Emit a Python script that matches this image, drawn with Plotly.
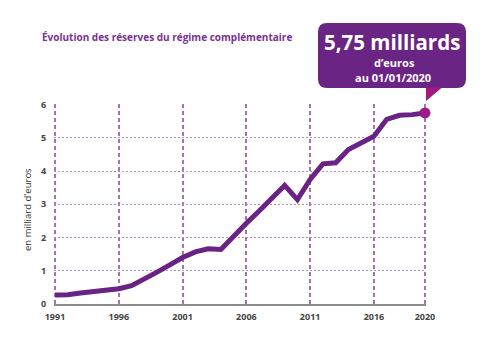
import plotly.graph_objects as go

years = list(range(1991, 2021))
reserves = [0.27, 0.28, 0.33, 0.38, 0.42, 0.46, 0.55, 0.74, 0.96, 1.18,
            1.40, 1.57, 1.66, 1.64, 2.05, 2.43, 2.80, 3.18, 3.57, 3.14,
            3.75, 4.22, 4.25, 4.65, 4.86, 5.05, 5.56, 5.68, 5.70, 5.75]
x_ticks = [1991, 1996, 2001, 2006, 2011, 2016, 2020]
y_ticks = [0, 1, 2, 3, 4, 5, 6]
title = "Évolution des réserves du régime complémentaire"
y_title = "en milliard d'euros"
callout_big = "5,75 milliards"
callout_small = ["d\u2019euros", "au 01/01/2020"]

W, H = 500, 344
L, R, T, B = 54, 74, 104, 40
PW, PH = W - L - R, H - T - B

def px(x):
    return (x - L) / PW

def py(y):
    return (H - B - y) / PH

fig = go.Figure()
fig.add_trace(go.Scatter(x=years, y=reserves, mode="lines",
                         line=dict(color="#6a2385", width=5),
                         cliponaxis=False, hoverinfo="skip"))
fig.add_trace(go.Scatter(x=[years[-1]], y=[reserves[-1]], mode="markers",
                         marker=dict(color="#9e1a86", size=11),
                         cliponaxis=False, hoverinfo="skip"))

# callout box (rounded rect) in paper coords
x0, x1, y0, y1 = px(318), px(466), py(88), py(23)
rx, ry = 9 / PW, 9 / PH
path = (f"M {x0+rx},{y1} L {x1-rx},{y1} Q {x1},{y1} {x1},{y1-ry} "
        f"L {x1},{y0+ry} Q {x1},{y0} {x1-rx},{y0} L {x0+rx},{y0} "
        f"Q {x0},{y0} {x0},{y0+ry} L {x0},{y1-ry} Q {x0},{y1} {x0+rx},{y1} Z")
fig.add_shape(type="path", path=path, xref="paper", yref="paper",
              fillcolor="#6a2483", line=dict(width=0), layer="below")
tail = f"M {px(426)},{py(87.5)} L {px(442)},{py(87.5)} L {px(426)},{py(101)} Z"
fig.add_shape(type="path", path=tail, xref="paper", yref="paper",
              fillcolor="#a3177f", line=dict(width=0), layer="below")

def note(x, y, text, size, color, xanchor="center", angle=0, bold=True):
    fig.add_annotation(x=px(x), y=py(y), xref="paper", yref="paper",
                       xanchor=xanchor, yanchor="middle", textangle=angle,
                       text=f"<b>{text}</b>" if bold else text,
                       showarrow=False, borderpad=0,
                       font=dict(family="Open Sans", size=size, color=color))

note(392, 41.5, callout_big, 20.5, "white")
note(394, 62.5, callout_small[0], 11, "white")
note(393, 77, callout_small[1], 11, "white")
note(41, 37, title, 10, "#7a3391", xanchor="left")
note(27, 209, y_title, 9.5, "#333", angle=-90, bold=False)

fig.update_layout(
    width=W, height=H, margin=dict(l=L, r=R, t=T, b=B),
    paper_bgcolor="white", plot_bgcolor="white", showlegend=False,
    xaxis=dict(range=[1990.92, 2020.08], tickvals=x_ticks,
               ticktext=[str(v) for v in x_ticks],
               showgrid=True, gridcolor="#a373b8", gridwidth=1.5,
               griddash="4px,3px", zeroline=False,
               showline=True, linecolor="#8a8a8a", linewidth=1.5,
               ticks="outside", ticklen=3, tickcolor="rgba(0,0,0,0)",
               tickfont=dict(family="Open Sans", size=9, color="#444",
                             weight="bold")),
    yaxis=dict(range=[0, 6.02], tickvals=y_ticks,
               showgrid=True, gridcolor="#b38dc6", gridwidth=1,
               griddash="2px,2px", zeroline=False, showline=False,
               ticks="outside", ticklen=5, tickcolor="rgba(0,0,0,0)",
               tickfont=dict(family="Open Sans", size=9, color="#444",
                             weight="bold")),
)

fig.write_html("out.html")
